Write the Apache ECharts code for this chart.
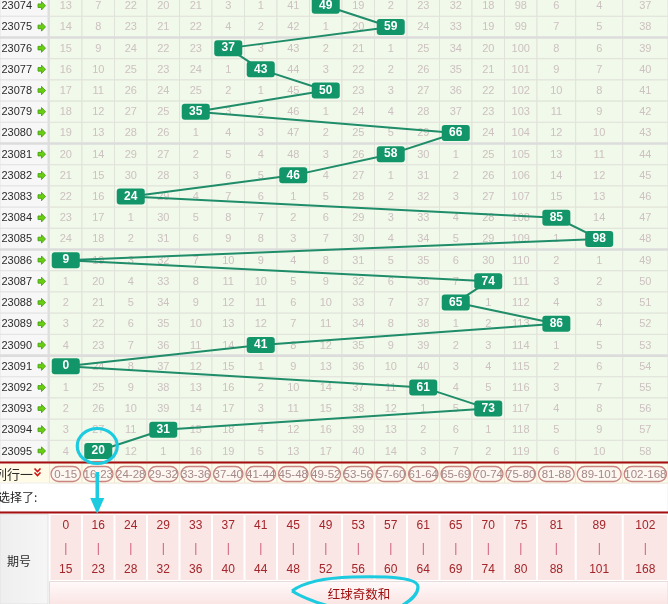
<!DOCTYPE html>
<html><head><meta charset="utf-8">
<script src="https://cdn.jsdelivr.net/npm/echarts@6/dist/echarts.min.js"></script>
<style>html,body{margin:0;padding:0;background:#fff;overflow:hidden}#c{width:668px;height:604px}</style>
</head><body><div id="c"></div>
<script>
// ---- data ----
const periods = ['23074','23075','23076','23077','23078','23079','23080','23081','23082','23083','23084',
  '23085','23086','23087','23088','23089','23090','23091','23092','23093','23094','23095'];
const binLow  = [0,16,24,29,33,37,41,45,49,53,57,61,65,70,75,81,89,102];
const binHigh = [15,23,28,32,36,40,44,48,52,56,60,64,69,74,80,88,101,168];
const oddSums = [49,59,37,43,50,35,66,58,46,24,85,98,9,74,65,86,41,0,61,73,31,20];
const missCounts = [
 [13,7,22,20,21,3,1,41,0,19,2,23,32,18,98,6,4,37],
 [14,8,23,21,22,4,2,42,1,20,0,24,33,19,99,7,5,38],
 [15,9,24,22,23,0,3,43,2,21,1,25,34,20,100,8,6,39],
 [16,10,25,23,24,1,0,44,3,22,2,26,35,21,101,9,7,40],
 [17,11,26,24,25,2,1,45,0,23,3,27,36,22,102,10,8,41],
 [18,12,27,25,0,3,2,46,1,24,4,28,37,23,103,11,9,42],
 [19,13,28,26,1,4,3,47,2,25,5,29,0,24,104,12,10,43],
 [20,14,29,27,2,5,4,48,3,26,0,30,1,25,105,13,11,44],
 [21,15,30,28,3,6,5,0,4,27,1,31,2,26,106,14,12,45],
 [22,16,0,29,4,7,6,1,5,28,2,32,3,27,107,15,13,46],
 [23,17,1,30,5,8,7,2,6,29,3,33,4,28,108,0,14,47],
 [24,18,2,31,6,9,8,3,7,30,4,34,5,29,109,1,0,48],
 [0,19,3,32,7,10,9,4,8,31,5,35,6,30,110,2,1,49],
 [1,20,4,33,8,11,10,5,9,32,6,36,7,0,111,3,2,50],
 [2,21,5,34,9,12,11,6,10,33,7,37,0,1,112,4,3,51],
 [3,22,6,35,10,13,12,7,11,34,8,38,1,2,113,0,4,52],
 [4,23,7,36,11,14,0,8,12,35,9,39,2,3,114,1,5,53],
 [0,24,8,37,12,15,1,9,13,36,10,40,3,4,115,2,6,54],
 [1,25,9,38,13,16,2,10,14,37,11,0,4,5,116,3,7,55],
 [2,26,10,39,14,17,3,11,15,38,12,1,5,0,117,4,8,56],
 [3,27,11,0,15,18,4,12,16,39,13,2,6,1,118,5,9,57],
 [4,0,12,1,16,19,5,13,17,40,14,3,7,2,119,6,10,58]
];
const titleText = '红球奇数和';

// ---- layout (column widths in axis units) ----
const colWidths = [32.5,32.5,32.5,32.5,32.5,32.5,32.5,32.5,32.5,32.5,32.5,32.5,32.5,32.5,32.5,38.7,47,45.3];
const colStart = []; let acc = 0; colWidths.forEach(w => { colStart.push(acc); acc += w; });
const totalW = acc;
const binOf = v => binLow.findIndex((lo, j) => v >= lo && v <= binHigh[j]);
const colCenter = j => colStart[j] + colWidths[j] / 2;

const numFont = '11px "Liberation Sans", Arial, sans-serif';
const cjk = '"Noto Sans CJK SC", sans-serif';

const cellData = [];
missCounts.forEach((row, i) => row.forEach((m, j) => cellData.push([colCenter(j), i, j, m])));
const lineData = oddSums.map((v, i) => [colCenter(binOf(v)), i, v]);
const sepData = [];
periods.forEach((p, i) => { if (i < periods.length - 1 && (+p) % 5 === 0) sepData.push([0, i + 0.5]); });
const last = oddSums.length - 1;

function renderCell(params, api) {
  const i = api.value(1), j = api.value(2), m = api.value(3);
  const tl = api.coord([colStart[j], i - 0.5]);
  const br = api.coord([colStart[j] + colWidths[j], i + 0.5]);
  const ch = [{ type: 'rect', shape: { x: tl[0], y: tl[1], width: br[0] - tl[0], height: br[1] - tl[1] },
    style: { fill: '#f1f9ea', stroke: '#e0e3da', lineWidth: 1 } }];
  if (binOf(oddSums[i]) !== j) ch.push({ type: 'text', style: { text: String(m), x: (tl[0] + br[0]) / 2, y: (tl[1] + br[1]) / 2 + 0.5,
    align: 'center', verticalAlign: 'middle', fill: '#cdc1c1', font: numFont } });
  return { type: 'group', children: ch };
}
function renderLeft(params, api) {
  const i = api.value(1);
  const c = api.coord([0, i]); const h = api.size([0, 1])[1];
  const y = c[1];
  return { type: 'group', children: [
    { type: 'rect', shape: { x: 0, y: y - h / 2, width: c[0], height: h }, style: { fill: '#f7f7f7', stroke: '#e3e3e3', lineWidth: 1 } },
    { type: 'rect', shape: { x: c[0] - 2, y: y - h / 2, width: 2, height: h }, style: { fill: '#dedede' } },
    { type: 'text', style: { text: periods[i], x: 1.5, y: y + 0.5, align: 'left', verticalAlign: 'middle', fill: '#2b2b2b', font: numFont } },
    { type: 'polygon', shape: { points: [[38, y - 1.8], [41.5, y - 1.8], [41.5, y - 4.2], [45.5, y], [41.5, y + 4.2], [41.5, y + 1.8], [38, y + 1.8]] },
      style: { fill: '#6acd12', stroke: '#3f9c0c', lineWidth: 0.8 } }
  ] };
}
function renderSep(params, api) {
  const c = api.coord([0, api.value(1)]);
  return { type: 'rect', shape: { x: 0, y: c[1] - 1.3, width: 668, height: 2.6 }, style: { fill: '#dcdcdc' } };
}
function renderMark(params, api) {
  const p = api.coord([api.value(0), api.value(1)]);
  const cx = p[0] - 1, cy = p[1];
  return { type: 'group', children: [
    { type: 'ellipse', shape: { cx: cx, cy: cy - 5, rx: 20, ry: 17.5 }, style: { stroke: '#1ccbe0', lineWidth: 3.2, fill: 'none' } },
    { type: 'line', shape: { x1: cx, y1: cy + 21, x2: cx, y2: cy + 50 }, style: { stroke: '#1ccbe0', lineWidth: 3.5 } },
    { type: 'polygon', shape: { points: [[cx - 7, cy + 47], [cx + 7, cy + 47], [cx, cy + 63]] }, style: { fill: '#1ccbe0' } }
  ] };
}
function renderBin(params, api) {
  const j = api.value(2);
  const Y = v => api.coord([0, v])[1];
  const x0 = api.coord([colStart[j], 0])[0], x1 = api.coord([colStart[j] + colWidths[j], 0])[0];
  const w = x1 - x0, cx = (x0 + x1) / 2;
  return { type: 'group', children: [
    { type: 'rect', shape: { x: x0, y: Y(0), width: w, height: 20 }, style: { fill: '#fffcec', stroke: '#efe6d6', lineWidth: 1 } },
    { type: 'rect', shape: { x: x0 + 1.5, y: Y(3.5), width: w - 3, height: 15, r: 7.5 }, style: { fill: '#fcf8f1', stroke: '#c98580', lineWidth: 1.3 } },
    { type: 'text', style: { text: binLow[j] + '-' + binHigh[j], x: cx, y: Y(11.5), align: 'center', verticalAlign: 'middle', fill: '#a48787', font: '11.5px "Liberation Sans", Arial' } },
    { type: 'rect', shape: { x: x0 + 1, y: Y(52), width: w - 2, height: 65 }, style: { fill: '#fbe6e6' } },
    { type: 'text', style: { text: String(binLow[j]), x: cx, y: Y(63), align: 'center', verticalAlign: 'middle', fill: '#a3262a', font: '12px "Liberation Sans", Arial' } },
    { type: 'text', style: { text: '|', x: cx, y: Y(86), align: 'center', verticalAlign: 'middle', fill: '#cf5c78', font: '12px "Liberation Sans", Arial' } },
    { type: 'text', style: { text: String(binHigh[j]), x: cx, y: Y(107), align: 'center', verticalAlign: 'middle', fill: '#a3262a', font: '12px "Liberation Sans", Arial' } }
  ] };
}

const annoStyle = { stroke: '#1ccbe0', lineWidth: 3.2, fill: 'none' };
const boxSymbol = 'path://M3,0L25,0Q28,0 28,3L28,13Q28,16 25,16L3,16Q0,16 0,13L0,3Q0,0 3,0Z';
const chart = echarts.init(document.getElementById('c'), null, { renderer: 'canvas' });
chart.setOption({
  animation: false,
  backgroundColor: '#ffffff',
  grid: [
    { left: 49.5, top: 0, width: totalW, height: 461.6 },
    { left: 49.5, top: 463, width: totalW, height: 141 }
  ],
  xAxis: [
    { type: 'value', min: 0, max: totalW, show: false, gridIndex: 0 },
    { type: 'value', min: 0, max: totalW, show: false, gridIndex: 1 }
  ],
  yAxis: [
    { type: 'value', min: -0.27, max: 21.5, inverse: true, show: false, gridIndex: 0 },
    { type: 'value', min: 0, max: 141, inverse: true, show: false, gridIndex: 1 }
  ],
  graphic: [
    { type: 'rect', shape: { x: 0, y: 461.5, width: 668, height: 2 }, style: { fill: '#a50f0f' }, z: 3 },
    { type: 'rect', shape: { x: 0, y: 463.5, width: 49, height: 19.5 }, style: { fill: '#fffbe6' } },
    { type: 'text', style: { text: '列行一', x: -6, y: 474, verticalAlign: 'middle', fill: '#2a2a2a', font: '13px ' + cjk } },
    { type: 'polyline', shape: { points: [[34.5, 468.5], [37.5, 471.5], [40.5, 468.5]] }, style: { stroke: '#cc1111', lineWidth: 1.6, fill: 'none' } },
    { type: 'polyline', shape: { points: [[34.5, 472.5], [37.5, 475.5], [40.5, 472.5]] }, style: { stroke: '#cc1111', lineWidth: 1.6, fill: 'none' } },
    { type: 'rect', shape: { x: 0, y: 483, width: 668, height: 28.5 }, style: { fill: '#ffffff', stroke: '#eeeeee', lineWidth: 1 } },
    { type: 'text', style: { text: '选择了:', x: -2, y: 497.5, verticalAlign: 'middle', fill: '#222', font: '12px ' + cjk } },
    { type: 'rect', shape: { x: 0, y: 511.5, width: 668, height: 2 }, style: { fill: '#a50f0f' }, z: 3 },
    { type: 'rect', shape: { x: 0, y: 514, width: 48, height: 90 }, style: { fill: { type: 'linear', x: 0, y: 0, x2: 1, y2: 0, colorStops: [{ offset: 0, color: '#eeeeee' }, { offset: 1, color: '#f6f6f6' }] }, stroke: '#e2e2e2', lineWidth: 1 } },
    { type: 'text', style: { text: '期号', x: 19, y: 561, align: 'center', verticalAlign: 'middle', fill: '#2a2a2a', font: '12px ' + cjk } },
    { type: 'rect', shape: { x: 49.5, y: 581.5, width: 618.5, height: 23 }, style: { fill: { type: 'linear', x: 0, y: 0, x2: 0, y2: 1, colorStops: [{ offset: 0, color: '#fffafa' }, { offset: 1, color: '#fbe4e4' }] }, stroke: '#e6dcdc', lineWidth: 1 } },
    { type: 'text', style: { text: titleText, x: 359, y: 594, align: 'center', verticalAlign: 'middle', fill: '#a10e0e', font: '12.5px ' + cjk }, z: 5 },
    { type: 'bezierCurve', shape: { x1: 292, y1: 591, cpx1: 300, cpy1: 585, cpx2: 318, cpy2: 578, x2: 352, y2: 577 }, style: annoStyle, z: 10 },
    { type: 'bezierCurve', shape: { x1: 352, y1: 577, cpx1: 392, cpy1: 576, cpx2: 418, cpy2: 578, x2: 418, y2: 587 }, style: annoStyle, z: 10 },
    { type: 'bezierCurve', shape: { x1: 418, y1: 587, cpx1: 418, cpy1: 595, cpx2: 410, cpy2: 601, x2: 400, y2: 607 }, style: annoStyle, z: 10 },
    { type: 'bezierCurve', shape: { x1: 292, y1: 591, cpx1: 300, cpy1: 596, cpx2: 314, cpy2: 602, x2: 332, y2: 607 }, style: annoStyle, z: 10 }
  ],
  series: [
    { type: 'custom', name: 'cells', xAxisIndex: 0, yAxisIndex: 0, renderItem: renderCell, data: cellData, clip: false, z: 1, silent: true, encode: { x: 0, y: 1 } },
    { type: 'custom', name: 'left', xAxisIndex: 0, yAxisIndex: 0, renderItem: renderLeft, data: periods.map((p, i) => [0, i]), clip: false, z: 1, silent: true, encode: { x: 0, y: 1 } },
    { type: 'custom', name: 'sep', xAxisIndex: 0, yAxisIndex: 0, renderItem: renderSep, data: sepData, clip: false, z: 2, silent: true, encode: { x: 0, y: 1 } },
    { type: 'line', name: 'odd', xAxisIndex: 0, yAxisIndex: 0, data: lineData, z: 4,
      symbol: boxSymbol, symbolSize: [28, 16], showAllSymbol: true,
      itemStyle: { color: '#13956a' }, lineStyle: { color: '#1f8d69', width: 2 },
      label: { show: true, position: 'inside', formatter: p => p.value[2], color: '#ffffff', fontWeight: 'bold', fontSize: 12, fontFamily: '"Liberation Sans", Arial' },
      encode: { x: 0, y: 1 } },
    { type: 'custom', name: 'bins', xAxisIndex: 1, yAxisIndex: 1, renderItem: renderBin, data: binLow.map((b, j) => [colCenter(j), 0, j]), clip: false, z: 1, silent: true, encode: { x: 0, y: 1 } },
    { type: 'custom', name: 'mark', xAxisIndex: 0, yAxisIndex: 0, renderItem: renderMark, data: [[colCenter(binOf(oddSums[last])), last]], clip: false, z: 10, silent: true, encode: { x: 0, y: 1 } }
  ]
});
</script>
</body></html>
